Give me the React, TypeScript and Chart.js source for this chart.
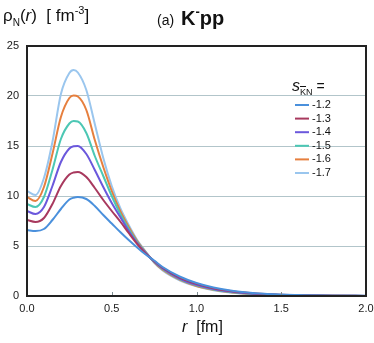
import React, { useEffect, useRef } from 'react';
import { Chart, registerables } from 'chart.js';

Chart.register(...registerables);

// r grid (fm)
const R = [0, 0.05, 0.1, 0.15, 0.2, 0.25, 0.275, 0.3, 0.35, 0.4, 0.45, 0.5, 0.55, 0.6, 0.65, 0.7, 0.75, 0.8, 0.9, 1.0, 1.1, 1.2, 1.3, 1.4, 1.5, 1.6, 1.8, 2.0];

const LABELS = ['-1.2', '-1.3', '-1.4', '-1.5', '-1.6', '-1.7'];
const COLORS = ['#4a90dc', '#a8395e', '#6b58dc', '#4cc7b4', '#e67f3e', '#9ac6ee'];

const S12 = [6.6, 6.5, 6.7, 7.6, 8.7, 9.65, 9.83, 9.9, 9.7, 9.0, 8.1, 7.25, 6.4, 5.6, 4.85, 4.15, 3.55, 2.9, 1.95, 1.3, 0.85, 0.55, 0.36, 0.23, 0.15, 0.09, 0.035, 0.015];
const S13 = [7.6, 7.4, 7.8, 9.2, 11.0, 12.15, 12.35, 12.4, 11.9, 10.8, 9.6, 8.5, 7.45, 6.3, 5.2, 4.25, 3.5, 2.82, 1.85, 1.22, 0.78, 0.5, 0.32, 0.2, 0.13, 0.08, 0.03, 0.012];
const S14 = [8.5, 8.2, 8.9, 11.0, 13.4, 14.75, 14.97, 15.0, 14.2, 12.6, 10.9, 9.3, 7.9, 6.5, 5.3, 4.3, 3.45, 2.75, 1.75, 1.12, 0.71, 0.45, 0.28, 0.18, 0.11, 0.07, 0.028, 0.01];
const S15 = [9.2, 8.9, 9.9, 12.6, 15.7, 17.25, 17.5, 17.45, 16.3, 14.0, 12.0, 10.0, 8.2, 6.7, 5.4, 4.35, 3.42, 2.7, 1.7, 1.06, 0.66, 0.41, 0.25, 0.16, 0.1, 0.06, 0.024, 0.01];
const S16 = [9.9, 9.5, 10.9, 14.2, 17.9, 19.8, 20.05, 19.95, 18.6, 15.6, 12.9, 10.5, 8.5, 6.9, 5.5, 4.4, 3.38, 2.62, 1.63, 1.0, 0.62, 0.38, 0.23, 0.14, 0.09, 0.055, 0.02, 0.008];
const S17 = [10.5, 10.1, 11.8, 15.4, 20.2, 22.3, 22.6, 22.35, 20.6, 17.2, 13.8, 11.0, 8.8, 7.1, 5.6, 4.45, 3.33, 2.55, 1.57, 0.96, 0.58, 0.35, 0.21, 0.13, 0.08, 0.05, 0.018, 0.007];

const SERIES = [S12, S13, S14, S15, S16, S17];
const X_TICKS = [0, 0.5, 1.0, 1.5, 2.0];

const FONT = '"Liberation Sans", Arial, sans-serif';

const framePlugin = {
  id: 'frame',
  afterDatasetsDraw(chart: any) {
    const { ctx, chartArea: a, scales } = chart;
    ctx.save();
    ctx.strokeStyle = '#7d8d92';
    ctx.lineWidth = 1;
    for (const t of X_TICKS.slice(1, -1)) {
      const x = Math.round(scales.x.getPixelForValue(t)) + 0.5;
      ctx.beginPath();
      ctx.moveTo(x, a.bottom);
      ctx.lineTo(x, a.bottom - 4);
      ctx.stroke();
    }
    ctx.strokeStyle = '#222';
    ctx.lineWidth = 2;
    ctx.strokeRect(a.left, a.top, a.right - a.left, a.bottom - a.top);
    ctx.restore();
  },
};

const legendPlugin = {
  id: 'sideLegend',
  afterDraw(chart: any) {
    const ctx = chart.ctx;
    ctx.save();
    ctx.font = '11px ' + FONT;
    ctx.textBaseline = 'middle';
    ctx.textAlign = 'left';
    chart.data.datasets.forEach((ds: any, i: number) => {
      const y = 105 + i * 13.6;
      ctx.strokeStyle = ds.borderColor;
      ctx.lineWidth = 2;
      ctx.beginPath();
      ctx.moveTo(295, y);
      ctx.lineTo(309, y);
      ctx.stroke();
      ctx.fillStyle = '#111';
      ctx.fillText(ds.label, 312, y);
    });
    ctx.restore();
  },
};

export default function App() {
  const ref = useRef<HTMLCanvasElement>(null);

  useEffect(() => {
    if (!ref.current) return;
    const chart = new Chart(ref.current, {
      type: 'line',
      data: {
        datasets: SERIES.map((s, i) => ({
          label: LABELS[i],
          data: R.map((r, j) => ({ x: r, y: s[j] })),
          borderColor: COLORS[i],
          backgroundColor: COLORS[i],
          borderWidth: 2,
          pointRadius: 0,
          cubicInterpolationMode: 'monotone' as const,
          fill: false,
        })),
      },
      options: {
        responsive: false,
        animation: false,
        events: [],
        layout: { padding: { left: 0, right: 0, top: 46, bottom: 0 } },
        plugins: {
          legend: { display: false },
          tooltip: { enabled: false },
          title: { display: false },
        },
        scales: {
          x: {
            type: 'linear',
            min: 0,
            max: 2,
            afterFit(s: any) { s.height = 47; s.paddingRight = 8; },
            afterBuildTicks(s: any) { s.ticks = X_TICKS.map((v) => ({ value: v })); },
            ticks: {
              padding: 6,
              color: '#1a1a1a',
              font: { family: FONT, size: 11 },
              maxRotation: 0,
              callback: (v: any) => Number(v).toFixed(1),
            },
            grid: { display: false, drawTicks: false },
            border: { display: false },
          },
          y: {
            min: 0,
            max: 25,
            afterFit(s: any) { s.width = 27; },
            ticks: {
              stepSize: 5,
              padding: 8,
              color: '#1a1a1a',
              font: { family: FONT, size: 11 },
            },
            grid: { color: '#b2c5ca', lineWidth: 1, drawTicks: false },
            border: { display: false },
          },
        },
      },
      plugins: [framePlugin, legendPlugin],
    });
    return () => chart.destroy();
  }, []);

  return (
    <div style={{ position: 'absolute', left: 0, top: 0, width: 374, height: 343, fontFamily: FONT, color: '#111', overflow: 'hidden' }}>
      <canvas ref={ref} width={374} height={343} style={{ position: 'absolute', left: 0, top: 0 }} />
      <div style={{ position: 'absolute', left: 3, top: 6, fontSize: 17, lineHeight: '20px', whiteSpace: 'pre' }}>
        ρ<span style={{ fontSize: 10, position: 'relative', top: 5 }}>N</span>(<i>r</i>)  [ fm<span style={{ fontSize: 11, position: 'relative', top: -7 }}>-3</span>]
      </div>
      <div style={{ position: 'absolute', left: 157, top: 7, whiteSpace: 'pre', lineHeight: '22px' }}>
        <span style={{ fontSize: 14 }}>(a) </span>
        <b style={{ fontSize: 20, marginLeft: 3 }}>K</b>
        <b style={{ fontSize: 13, position: 'relative', top: -9 }}>-</b>
        <b style={{ fontSize: 20 }}>pp</b>
      </div>
      <div style={{ position: 'absolute', left: 182, top: 317, fontSize: 16, lineHeight: '20px', whiteSpace: 'pre' }}>
        <i>r</i>  [fm]
      </div>
      <div style={{ position: 'absolute', left: 292, top: 76, fontSize: 16, lineHeight: '20px', whiteSpace: 'pre' }}>
        <i>s</i>
        <span style={{ fontSize: 9, position: 'relative', top: 4 }}>
          <span style={{ textDecoration: 'overline' }}>K</span>N
        </span>
        <span style={{ fontSize: 14 }}> =</span>
      </div>
    </div>
  );
}
